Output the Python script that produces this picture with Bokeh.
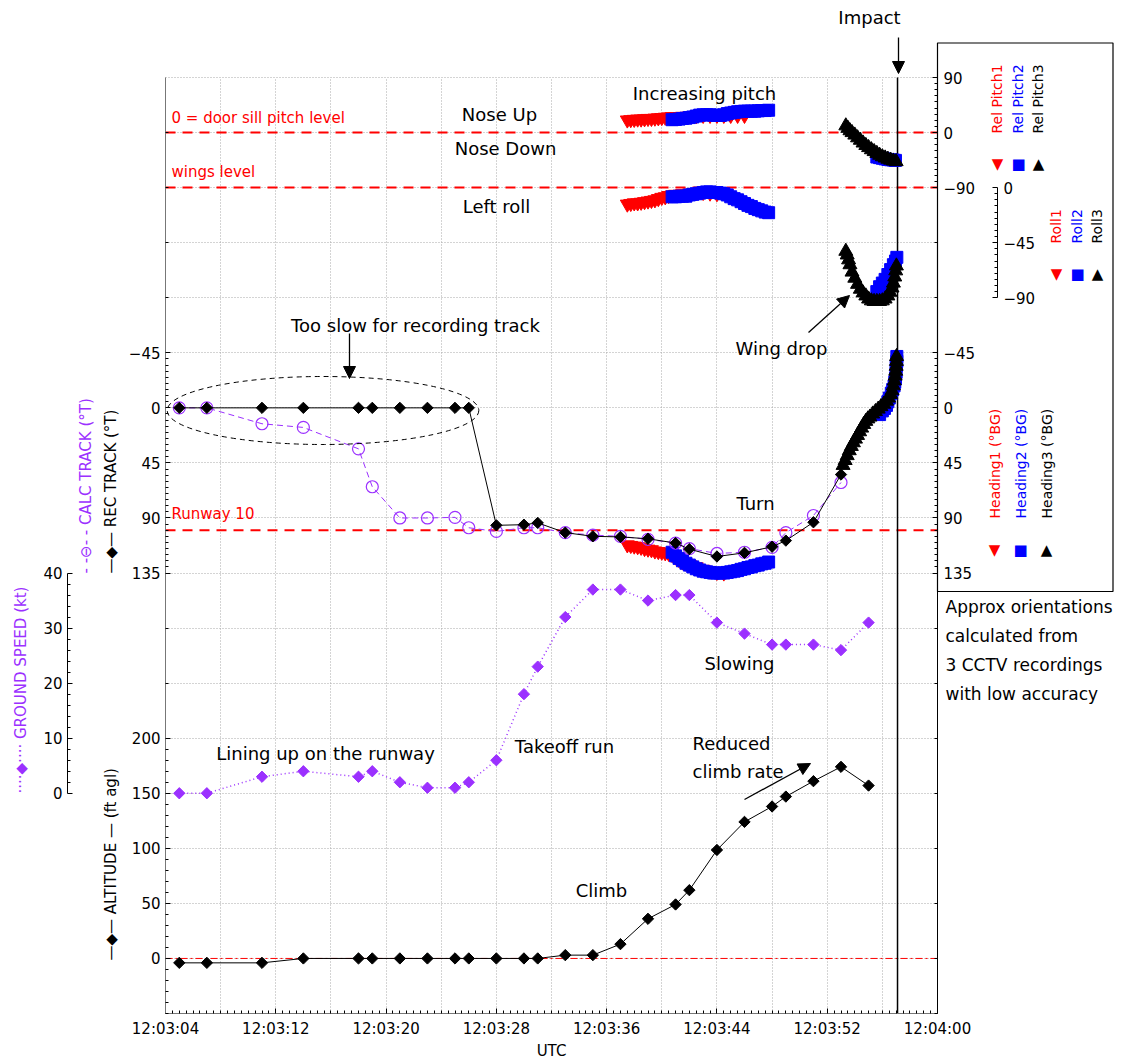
import numpy as np
from bokeh.plotting import figure
from bokeh.models import (Range1d, LinearAxis, FixedTicker, Label, Arrow, NormalHead,
                          BoxAnnotation, Grid)
from bokeh.embed import file_html
from bokeh.resources import INLINE

# ---------------- data ----------------
# time in seconds after 12:03:00 UTC
t_nav = [5, 7, 11, 14, 18, 19, 21, 23, 25, 26, 28, 30, 31, 33, 35, 37, 39, 41, 42, 44, 46, 48, 49, 51, 53, 55]
altitude_ft = [-4, -4, -4, 0, 0, 0, 0, 0, 0, 0, 0, 0, 0, 3, 3, 13, 36, 49, 62, 98.5, 124, 138, 147, 161, 174, 157]
ground_speed_kt = [0, 0, 3, 4, 3, 4, 2, 1, 1, 2, 6, 18, 23, 32, 37, 37, 35, 36, 36, 31, 29, 27, 27, 27, 26, 31]
t_track = [5, 7, 11, 14, 18, 19, 21, 23, 25, 26, 28, 30, 31, 33, 35, 37, 39, 41, 42, 44, 46, 48, 49, 51, 53]
rec_track_deg = [0, 0, 0, 0, 0, 0, 0, 0, 0, 0, 96, 95.5, 94, 102, 105, 105.5, 107, 110.5, 115.5, 121.5, 118.5, 113.5, 108.5, 93.5, 54.5]
calc_track_deg = [0, 0, 13, 16, 33.5, 64.5, 90, 90, 89.5, 98, 101, 98, 98, 102, 104, 105, 107.5, 110.5, 115, 119, 118, 114, 102, 88, 61]

# CCTV derived orientations (1 = red, 2 = blue, 3 = black)
h1_t = [37.5, 37.75, 38.0, 38.25, 38.5, 38.75, 39.0, 39.25, 39.5, 39.75, 40.0, 40.25, 40.5, 40.75, 41.0, 41.25, 41.5, 41.75, 42.0, 42.5, 43.0, 43.5, 44.0, 44.5]
h1_v = [112, 112.5, 113, 113.5, 114, 115, 115.5, 116, 117, 117.5, 118, 118.5, 119, 120, 122, 124, 126, 127, 128, 130, 132, 133.5, 134.5, 135]
h2_t = [40.75, 41.0, 41.25, 41.5, 41.75, 42.0, 42.25, 42.5, 42.75, 43.0, 43.25, 43.5, 43.75, 44.0, 44.25, 44.5, 44.75, 45.0, 45.25, 45.5, 45.75, 46.0, 46.25, 46.5, 46.75, 47.0, 47.25, 47.5, 47.75,
        55.8, 56.0, 56.15, 56.3, 56.4, 56.5, 56.65, 56.75, 56.85, 56.9, 56.95, 57.0, 57.0, 57.05, 57.05]
h2_v = [118, 121, 123, 125, 127, 128.5, 130, 131.5, 132.5, 133.5, 134, 134.5, 135, 135, 135, 135, 134.5, 134, 133.5, 133, 132, 131.5, 130.5, 130, 129, 128.5, 127.5, 127, 126,
        5.5, 2.5, 0.5, -2, -5, -8, -12, -15, -18, -21, -24, -29, -34, -38, -42]
h3_t = [53.15, 53.3, 53.45, 53.6, 53.75, 53.9, 54.05, 54.2, 54.35, 54.5, 54.65, 54.8, 54.95, 55.1, 55.3, 55.5, 55.7, 55.9, 56.1, 56.3, 56.45, 56.6, 56.7, 56.8, 56.87, 56.93, 56.97, 57.0, 57.02, 57.03]
h3_v = [47, 43, 39, 35, 31.5, 28.5, 25.5, 22.5, 19.5, 16.5, 13.5, 11, 9, 7.5, 5, 3, 1, -1, -3, -5.5, -8, -11, -14, -18, -22, -26, -30, -34, -38, -42]

p1_t = [37.5, 37.75, 38.0, 38.25, 38.5, 38.75, 39.0, 39.25, 39.5, 39.75, 40.0, 40.25, 40.5, 40.75, 41.0, 41.5, 42.0, 42.5, 43.0, 43.5, 44.0, 44.5, 45.0, 45.5, 46.0]
p1_v = [20.5, 21, 21.5, 22, 22, 22.5, 23, 23, 23.5, 24, 24.5, 25, 25.5, 26, 26, 26.5, 27, 27.5, 28, 28, 28, 28, 28, 28, 28]
p2_t = [40.75, 41.0, 41.25, 41.5, 41.75, 42.0, 42.25, 42.5, 42.75, 43.0, 43.25, 43.5, 43.75, 44.0, 44.25, 44.5, 44.75, 45.0, 45.25, 45.5, 45.75, 46.0, 46.25, 46.5, 46.75, 47.0, 47.25, 47.5, 47.75,
        55.6, 55.8, 56.0, 56.2, 56.4, 56.6, 56.8, 56.95]
p2_v = [21, 21.5, 22, 23, 23.5, 24.5, 25.5, 27, 28.5, 29, 29, 29, 28.5, 28, 28, 29, 31, 32, 33, 34, 34.5, 35, 35, 35, 35, 35.5, 36, 36, 36.5,
        -40, -41, -42, -43, -44, -44.5, -45, -45.5]
p3_t = [53.35, 53.5, 53.65, 53.8, 54.0, 54.2, 54.4, 54.6, 54.8, 55.0, 55.2, 55.4, 55.6, 55.8, 56.0, 56.2, 56.4, 56.6, 56.8, 57.0]
p3_v = [11, 7, 3, 0, -4, -8.5, -12.5, -17, -21, -24.5, -28, -31, -34, -37, -39.5, -41.5, -43.5, -45, -46.5, -47.5]

r1_t = [37.5, 37.75, 38.0, 38.25, 38.5, 38.75, 39.0, 39.25, 39.5, 39.75, 40.0, 40.25, 40.5, 40.75, 41.0, 41.5, 42.0, 42.5, 43.0, 43.5, 44.0]
r1_v = [-13.5, -13, -12.5, -12.5, -12, -11.5, -11, -10.5, -10, -9, -8, -7.5, -6.5, -6, -5.5, -5, -4.5, -4, -4, -4.5, -5]
r2_t = [40.75, 41.0, 41.25, 41.5, 41.75, 42.0, 42.25, 42.5, 42.75, 43.0, 43.25, 43.5, 43.75, 44.0, 44.25, 44.5, 44.75, 45.0, 45.25, 45.5, 45.75, 46.0, 46.25, 46.5, 46.75, 47.0, 47.25, 47.5, 47.75,
        55.6, 55.8, 56.0, 56.2, 56.4, 56.6, 56.8, 56.95, 57.05]
r2_v = [-7.5, -7.5, -7, -7, -7, -6, -5.5, -5, -4.5, -4, -3.5, -3.5, -4, -4, -4.5, -5, -6, -7.5, -9, -10, -11.5, -13, -14.5, -15.5, -17, -18, -19, -20, -20.5,
        -85, -81, -78, -75, -71, -67, -63, -60, -57]
r3_t = [53.35, 53.45, 53.55, 53.65, 53.8, 54.0, 54.2, 54.4, 54.6, 54.8, 55.0, 55.2, 55.4, 55.6, 55.8, 56.0, 56.2, 56.4, 56.55, 56.7, 56.8, 56.9, 56.97, 57.02]
r3_v = [-52, -55, -59, -63, -69, -74, -79, -83, -86, -88.5, -91, -92.5, -93, -93, -93, -92.5, -91, -88.5, -85.5, -82, -78, -73, -68, -64]

T_IMPACT = 57.1          # s after 12:03:00
RUNWAY_TRACK = 100       # deg
PITCH_REF = 0            # door sill pitch level
ROLL_REF = 0             # wings level
ALT_REF = 0              # ground

x_tick_secs = [4, 12, 20, 28, 36, 44, 52, 60]
x_tick_labels = ["12:03:04", "12:03:12", "12:03:20", "12:03:28", "12:03:36", "12:03:44", "12:03:52", "12:04:00"]
alt_ticks = [0, 50, 100, 150, 200]
track_ticks = [-45, 0, 45, 90, 135]
gs_ticks = [0, 10, 20, 30, 40]
pitch_ticks = [-90, 0, 90]
roll_ticks = [-90, -45, 0]

# ---------------- layout ----------------
FONT = "DejaVu Sans"
PURPLE = "#9b30ff"
RED = "#ff0000"
BLUE = "#0000ff"

W, H = 1123, 1062
PAGE = 0
BOX_L, BOX_R, BOX_T, BOX_B = 165, 937, 77, 1013   # plot box in window pixels
T_LO, T_HI = 4, 60
A_LO, A_HI = -50, 800
SX = (BOX_R - BOX_L) / (T_HI - T_LO)
SY = (BOX_B - BOX_T) / (A_HI - A_LO)


def tx(wx):
    return T_LO + (wx - BOX_L) / SX


def ty(wy):
    return A_LO + (BOX_B - wy) / SY


x_range = Range1d(tx(PAGE), tx(PAGE + W))
y_range = Range1d(ty(PAGE + H), ty(PAGE))


def sub_range(offset, scale):
    return Range1d((y_range.start - offset) / scale, (y_range.end - offset) / scale)


p = figure(width=W, height=H, x_range=x_range, y_range=y_range,
           output_backend="svg", toolbar_location=None,
           x_axis_type=None, y_axis_type=None,
           min_border=0, min_border_left=0, min_border_right=0,
           min_border_top=0, min_border_bottom=0)
p.outline_line_color = None
p.background_fill_color = "white"
p.border_fill_color = "white"

p.extra_y_ranges = {
    "trk": sub_range(500, -50 / 45),
    "gs": sub_range(150, 5),
    "pitch": sub_range(750, 50 / 90),
    "roll": sub_range(700, 50 / 45),
}


def to_alt(v, name):
    r = p.extra_y_ranges[name]
    return round(y_range.start + (v - r.start) / (r.end - r.start) * (y_range.end - y_range.start), 6)


# ---------------- grid ----------------
vgrid = list(range(8, 57, 4))
hgrid = list(range(-50, 801, 50))
gkw = dict(grid_line_color="#a9a9a9", grid_line_dash="1 2", grid_line_width=1)
if "cross_bounds" in Grid.properties():
    g1 = Grid(dimension=0, ticker=FixedTicker(ticks=vgrid), cross_bounds=(A_LO, A_HI), **gkw)
    g2 = Grid(dimension=1, ticker=FixedTicker(ticks=hgrid), cross_bounds=(T_LO, T_HI), **gkw)
    p.add_layout(g1)
    p.add_layout(g2)
else:
    p.segment(x0=vgrid, x1=vgrid, y0=[A_LO] * len(vgrid), y1=[A_HI] * len(vgrid),
              line_color="#a9a9a9", line_dash="1 2")
    p.segment(x0=[T_LO] * len(hgrid), x1=[T_HI] * len(hgrid), y0=hgrid, y1=hgrid,
              line_color="#a9a9a9", line_dash="1 2")


# ---------------- axes ----------------
def style_axis(ax, line_color="black"):
    ax.axis_line_color = line_color
    ax.axis_line_width = 1
    ax.major_tick_in = 5
    ax.major_tick_out = 0
    ax.minor_tick_in = 3
    ax.minor_tick_out = 0
    ax.major_tick_line_color = "black"
    ax.minor_tick_line_color = "black"
    ax.major_label_text_font = FONT
    ax.major_label_text_font_size = "15px"
    ax.major_label_text_color = "black"
    ax.major_label_standoff = 5


def fmt(v):
    return ("\u2212" + str(abs(v))) if v < 0 else str(v)


x_minor = [v / 2 for v in range(2 * T_LO, 2 * T_HI + 1) if (v / 2) not in x_tick_secs]
xaxis = LinearAxis(ticker=FixedTicker(ticks=x_tick_secs, minor_ticks=x_minor),
                   fixed_location=A_LO, bounds=(T_LO, T_HI),
                   major_label_overrides=dict(zip(x_tick_secs, x_tick_labels)))
style_axis(xaxis, "#777777")
xaxis.major_label_standoff = 6
p.add_layout(xaxis, "below")

track_major = [to_alt(v, "trk") for v in track_ticks]
track_minor = [to_alt(v, "trk") for v in range(-45, 136, 5) if v not in track_ticks]
alt_minor = [v for v in range(-50, 201, 10) if v not in alt_ticks]
mid_grid = [250, 300, 600, 650, 700, 750]
left_major = alt_ticks + track_major
left_labels = {a: str(a) for a in alt_ticks}
left_labels.update({to_alt(v, "trk"): fmt(v) for v in track_ticks})
laxis = LinearAxis(ticker=FixedTicker(ticks=left_major, minor_ticks=alt_minor + track_minor + mid_grid),
                   fixed_location=T_LO, bounds=(A_LO, A_HI), major_label_overrides=left_labels)
style_axis(laxis, "#777777")
p.add_layout(laxis, "left")

gs_axis = LinearAxis(y_range_name="gs",
                     ticker=FixedTicker(ticks=gs_ticks, minor_ticks=[v for v in range(0, 41, 2) if v not in gs_ticks]),
                     fixed_location=tx(67), bounds=(0, 40))
style_axis(gs_axis)
p.add_layout(gs_axis, "left")

pitch_major = [to_alt(v, "pitch") for v in pitch_ticks]
pitch_minor = [to_alt(v, "pitch") for v in range(-90, 91, 10) if v not in pitch_ticks]
right_major = pitch_major + track_major
right_labels = {to_alt(v, "pitch"): fmt(v) for v in pitch_ticks}
right_labels.update({to_alt(v, "trk"): fmt(v) for v in track_ticks})
right_minor = pitch_minor + track_minor + [v for v in range(-50, 701, 50) if v not in (350, 400, 450, 500, 550)]
raxis = LinearAxis(ticker=FixedTicker(ticks=right_major, minor_ticks=right_minor),
                   fixed_location=T_HI, bounds=(A_LO, A_HI), major_label_overrides=right_labels)
style_axis(raxis)
raxis.major_label_standoff = 6
p.add_layout(raxis, "right")

roll_axis = LinearAxis(y_range_name="roll",
                       ticker=FixedTicker(ticks=roll_ticks, minor_ticks=[v for v in range(-90, 1, 5) if v not in roll_ticks]),
                       fixed_location=tx(997), bounds=(-90, 0),
                       major_label_overrides={v: fmt(v) for v in roll_ticks})
style_axis(roll_axis)
roll_axis.major_label_standoff = 6
p.add_layout(roll_axis, "right")

# ---------------- reference lines ----------------
p.segment(x0=[T_LO], x1=[T_HI], y0=[PITCH_REF], y1=[PITCH_REF], y_range_name="pitch",
          line_color=RED, line_dash="10 7", line_width=2)
p.segment(x0=[T_LO], x1=[T_HI], y0=[ROLL_REF], y1=[ROLL_REF], y_range_name="roll",
          line_color=RED, line_dash="10 7", line_width=2)
p.segment(x0=[T_LO], x1=[T_HI], y0=[RUNWAY_TRACK], y1=[RUNWAY_TRACK], y_range_name="trk",
          line_color=RED, line_dash="10 7", line_width=2)
p.segment(x0=[T_LO], x1=[T_HI], y0=[ALT_REF], y1=[ALT_REF],
          line_color=RED, line_dash="7 3 2 3", line_width=1)
p.segment(x0=[T_IMPACT], x1=[T_IMPACT], y0=[A_LO], y1=[A_HI], line_color="black", line_width=1.5)

# ---------------- CCTV orientation bands ----------------
bands = [
    (h1_t, h1_v, "trk", "inverted_triangle", RED, 14),
    (h2_t, h2_v, "trk", "square", BLUE, 12),
    (h3_t, h3_v, "trk", "triangle", "black", 14),
    (p1_t, p1_v, "pitch", "inverted_triangle", RED, 14),
    (p2_t, p2_v, "pitch", "square", BLUE, 12),
    (p3_t, p3_v, "pitch", "triangle", "black", 14),
    (r1_t, r1_v, "roll", "inverted_triangle", RED, 14),
    (r2_t, r2_v, "roll", "square", BLUE, 12),
    (r3_t, r3_v, "roll", "triangle", "black", 14),
]
for bt, bv, rng, mk, col, sz in bands:
    p.scatter(bt, bv, y_range_name=rng, marker=mk, size=sz, fill_color=col, line_color=col)

# ---------------- tracks, speed, altitude ----------------
p.line(t_track, calc_track_deg, y_range_name="trk", line_color=PURPLE, line_dash="6 4", line_width=1)
p.scatter(t_track, calc_track_deg, y_range_name="trk", marker="circle", size=12,
          fill_color=None, line_color=PURPLE, line_width=1.2)
p.line(t_track, rec_track_deg, y_range_name="trk", line_color="black", line_width=1)
p.scatter(t_track, rec_track_deg, y_range_name="trk", marker="square", angle=np.pi / 4, size=8,
          fill_color="black", line_color="black")

p.line(t_nav, ground_speed_kt, y_range_name="gs", line_color=PURPLE, line_dash="1 3", line_width=1.5)
p.scatter(t_nav, ground_speed_kt, y_range_name="gs", marker="square", angle=np.pi / 4, size=8,
          fill_color=PURPLE, line_color=PURPLE)

p.line(t_nav, altitude_ft, line_color="black", line_width=1)
p.scatter(t_nav, altitude_ft, marker="square", angle=np.pi / 4, size=8,
          fill_color="black", line_color="black")

# ---------------- annotations ----------------
p.ellipse(x=[tx(322.5)], y=[ty(410)], width=311.6 / SX, height=68 / SY,
          fill_color=None, line_color="black", line_dash="5 4", line_width=1)


def note(text, wx, wy, size=18, color="black", align="center", angle=0.0):
    p.add_layout(Label(x=tx(wx), y=ty(wy), text=text, text_font=FONT,
                       text_font_size=f"{size}px", text_color=color,
                       text_align=align, text_baseline="middle", angle=angle))


def arrow(x0, y0, x1, y1):
    p.add_layout(Arrow(end=NormalHead(size=12, fill_color="black", line_color="black"),
                       x_start=tx(x0), y_start=ty(y0), x_end=tx(x1), y_end=ty(y1),
                       line_color="black", line_width=1.3))


notes = [
    ("Impact", 869, 17, 18, "black", "center"),
    ("Increasing pitch", 704, 93, 18, "black", "center"),
    ("Nose Up", 499, 114, 18, "black", "center"),
    ("Nose Down", 505, 148, 18, "black", "center"),
    ("Left roll", 496, 206, 18, "black", "center"),
    ("0 = door sill pitch level", 171, 117, 15, RED, "left"),
    ("wings level", 171, 171, 15, RED, "left"),
    ("Runway 10", 171, 513, 15, RED, "left"),
    ("Too slow for recording track", 415, 325, 18, "black", "center"),
    ("Wing drop", 781, 348, 18, "black", "center"),
    ("Turn", 755, 503, 18, "black", "center"),
    ("Slowing", 739, 663, 18, "black", "center"),
    ("Lining up on the runway", 325, 753, 18, "black", "center"),
    ("Takeoff run", 564, 746, 18, "black", "center"),
    ("Reduced", 692, 743, 18, "black", "left"),
    ("climb rate", 692, 771, 18, "black", "left"),
    ("Climb", 601, 890, 18, "black", "center"),
    ("UTC", 551, 1050, 15, "black", "center"),
    ("Approx orientations", 945, 606, 17, "black", "left"),
    ("calculated from", 945, 635, 17, "black", "left"),
    ("3 CCTV recordings", 945, 664, 17, "black", "left"),
    ("with low accuracy", 945, 693, 17, "black", "left"),
]
for n in notes:
    note(*n)

arrow(898, 37, 898, 73)
arrow(349, 333, 349, 378)
arrow(808, 332, 849, 295)
arrow(744, 799, 810, 763)

# left side series keys (rotated)
VERT = np.pi / 2
note("\u00b7\u00b7\u00b7\u00b7\u25c6\u00b7\u00b7\u00b7\u00b7 GROUND SPEED (kt)", 20, 793, 15, PURPLE, "left", VERT)
note("- -\u2296- - CALC TRACK (\u00b0T)", 85, 573, 15, PURPLE, "left", VERT)
note("\u2014\u25c6\u2014 REC TRACK (\u00b0T)", 110, 573, 15, "black", "left", VERT)
note("\u2014\u25c6\u2014 ALTITUDE \u2014 (ft agl)", 110, 960, 15, "black", "left", VERT)

# right side key box
p.add_layout(BoxAnnotation(left=tx(937), right=tx(1112.5), top=ty(42.5), bottom=ty(591),
                           fill_color=None, fill_alpha=0, line_color="black",
                           line_alpha=1.0, line_width=1.2))
key_cols = [RED, BLUE, "black"]
key_syms = ["\u25bc", "\u25a0", "\u25b2"]
for i, (xc, txt) in enumerate(zip([996, 1017, 1037], ["Rel Pitch1", "Rel Pitch2", "Rel Pitch3"])):
    note(txt, xc, 133, 14, key_cols[i], "left", VERT)
    note(key_syms[i], xc + 1, 163, 15, key_cols[i], "center")
for i, (xc, txt) in enumerate(zip([1055, 1076, 1096], ["Roll1", "Roll2", "Roll3"])):
    note(txt, xc, 243, 14, key_cols[i], "left", VERT)
    note(key_syms[i], xc + 1, 273, 15, key_cols[i], "center")
for i, (xc, txt) in enumerate(zip([994, 1020, 1046], ["Heading1 (\u00b0BG)", "Heading2 (\u00b0BG)", "Heading3 (\u00b0BG)"])):
    note(txt, xc, 518, 14, key_cols[i], "left", VERT)
    note(key_syms[i], xc, 549, 15, key_cols[i], "center")

open("out.html", "w").write(file_html(p, INLINE))
